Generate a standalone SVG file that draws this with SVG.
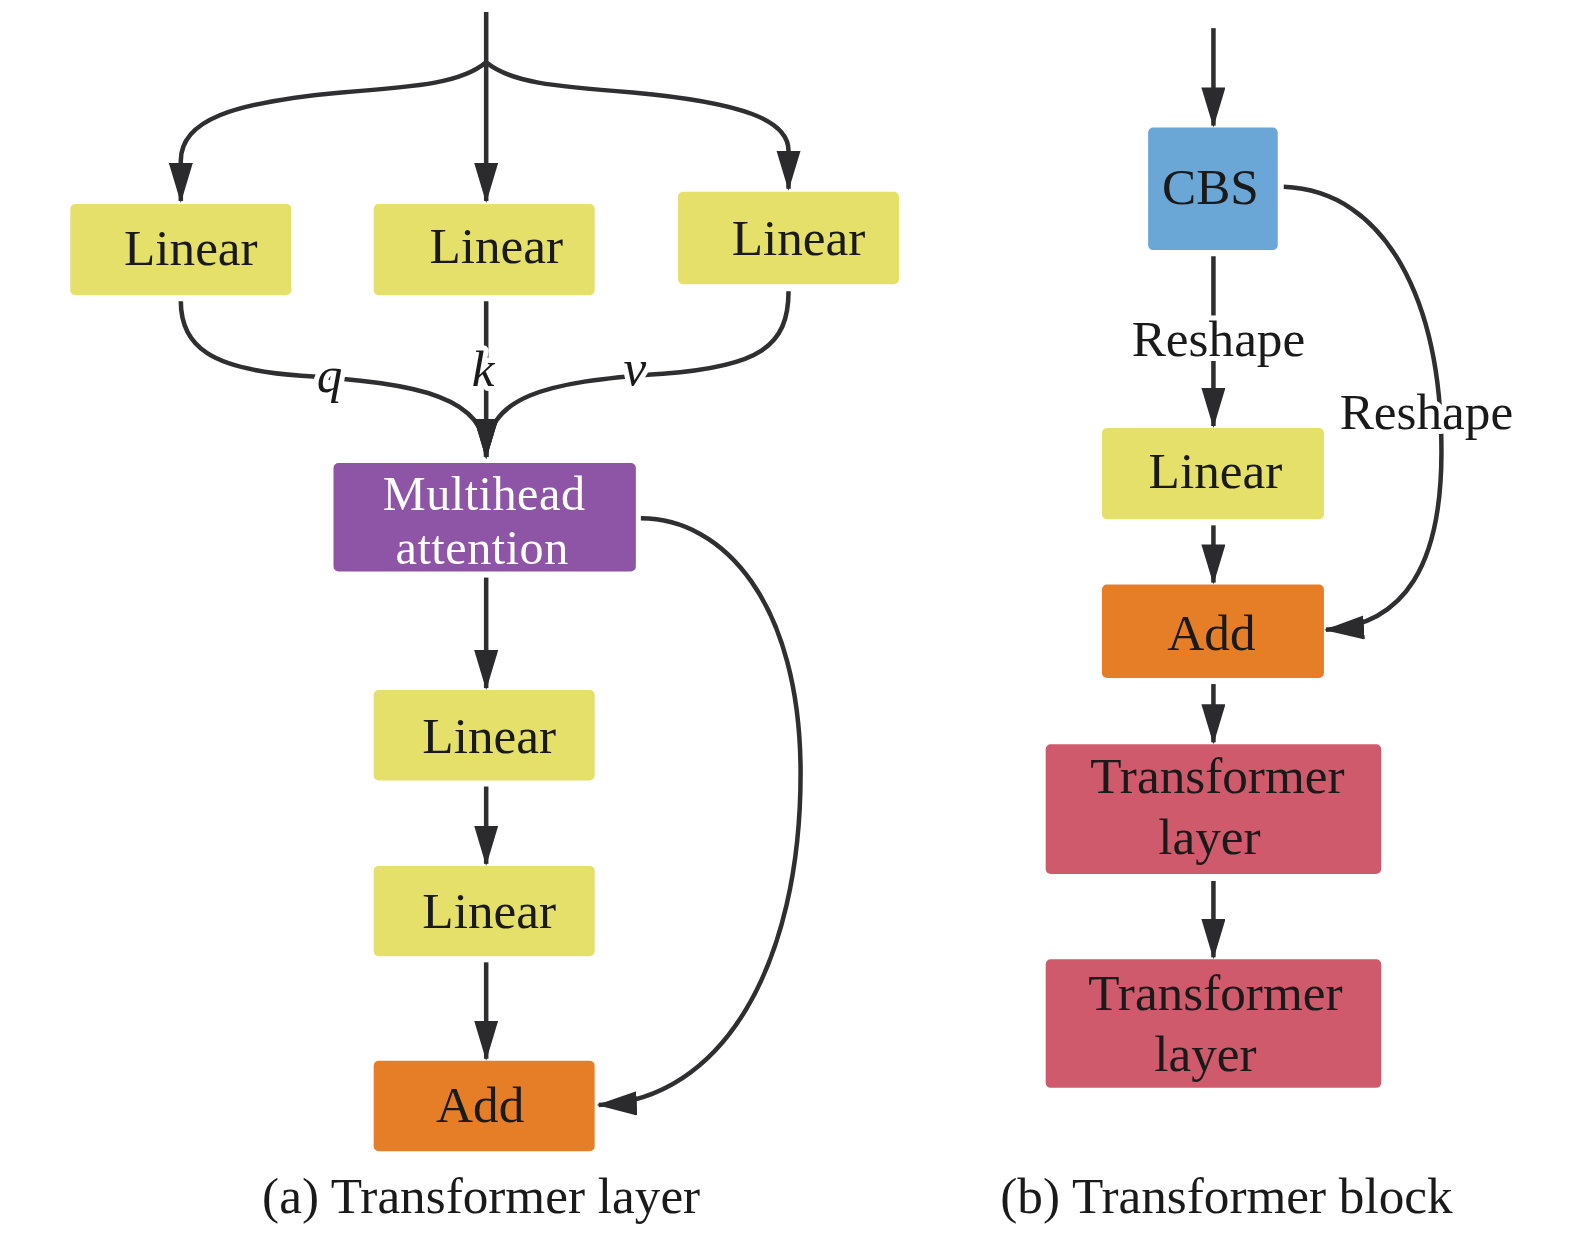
<svg xmlns="http://www.w3.org/2000/svg" width="1575" height="1240" viewBox="0 0 1575 1240">
<defs>
<marker id="ah" viewBox="0 0 40 24" refX="38" refY="12" markerWidth="40" markerHeight="24" markerUnits="userSpaceOnUse" orient="auto">
<path d="M0,0 L40,12 L0,24 z" fill="#2b2b2d"/>
</marker>
</defs>
<style>
.bx{rx:5;ry:5}
.y{fill:#E5E069}
.p{fill:#8E54A6}
.o{fill:#E67E27}
.b{fill:#6AA6D6}
.r{fill:#CE5A6C}
text{font-family:"Liberation Serif","Times New Roman",serif;font-size:51px;fill:#1a1a1a;text-anchor:middle}
.w{fill:#ffffff;font-size:48px;letter-spacing:0.5px}
.lbl{paint-order:stroke;stroke:#ffffff;stroke-width:10px;stroke-linejoin:round}
.it{font-style:italic}
.c{fill:none;stroke:#2f2f31;stroke-width:4.5}
</style>
<g transform="scale(1.0045)">
<g id="connectors">
<path class="c" d="M484,12 L484,200" marker-end="url(#ah)"/>
<path class="c" d="M484,62 C460,82 420,86 340,92 C230,102 180,120 180,160 L180,200" marker-end="url(#ah)"/>
<path class="c" d="M484,62 C508,82 550,86 630,92 C740,102 785,120 785,150 L785,188" marker-end="url(#ah)"/>
<path class="c" d="M180,300 C180,345 210,368 300,374 C420,382 484,395 484,455" marker-end="url(#ah)"/>
<path class="c" d="M484,300 L484,455" marker-end="url(#ah)"/>
<path class="c" d="M785,290 C785,345 755,365 660,372 C540,380 484,395 484,455" marker-end="url(#ah)"/>
<path class="c" d="M484,575 L484,685" marker-end="url(#ah)"/>
<path class="c" d="M484,783 L484,860" marker-end="url(#ah)"/>
<path class="c" d="M484,958 L484,1054" marker-end="url(#ah)"/>
<path class="c" d="M638,516 C720,516 797,600 797,770 C797,960 720,1095 596,1100" marker-end="url(#ah)"/>
<path class="c" d="M1208,28 L1208,125" marker-end="url(#ah)"/>
<path class="c" d="M1208,255 L1208,424" marker-end="url(#ah)"/>
<path class="c" d="M1208,523 L1208,580" marker-end="url(#ah)"/>
<path class="c" d="M1278,186 C1380,190 1435,300 1435,450 C1435,560 1400,622 1320,627" marker-end="url(#ah)"/>
<path class="c" d="M1208,681 L1208,739" marker-end="url(#ah)"/>
<path class="c" d="M1208,877 L1208,953" marker-end="url(#ah)"/>
<text class="lbl it" x="328" y="390">q</text>
<text class="lbl it" x="481" y="384">k</text>
<text class="lbl it" x="632" y="383">v</text>
<text class="lbl" x="1213" y="354">Reshape</text>
<text class="lbl" x="1420" y="427">Reshape</text>
</g>
<g id="linear-q"><rect class="bx y" x="70" y="203" width="220" height="91"/><text x="190" y="264">Linear</text></g>
<g id="linear-k"><rect class="bx y" x="372" y="203" width="220" height="91"/><text x="494" y="262">Linear</text></g>
<g id="linear-v"><rect class="bx y" x="675" y="191" width="220" height="92"/><text x="795" y="254">Linear</text></g>
<g id="mha"><rect class="bx p" x="332" y="461" width="301" height="108"/><text class="w" x="482" y="508">Multihead</text><text class="w" x="480" y="561">attention</text></g>
<g id="linear-a1"><rect class="bx y" x="372" y="687" width="220" height="90"/><text x="487" y="750">Linear</text></g>
<g id="linear-a2"><rect class="bx y" x="372" y="862" width="220" height="90"/><text x="487" y="924">Linear</text></g>
<g id="add-a"><rect class="bx o" x="372" y="1056" width="220" height="90"/><text x="478" y="1117">Add</text></g>
<g id="cbs"><rect class="bx b" x="1143" y="127" width="129" height="122"/><text x="1205" y="203">CBS</text></g>
<g id="linear-b"><rect class="bx y" x="1097" y="426" width="221" height="91"/><text x="1210" y="486">Linear</text></g>
<g id="add-b"><rect class="bx o" x="1097" y="582" width="221" height="93"/><text x="1206" y="647">Add</text></g>
<g id="tl1"><rect class="bx r" x="1041" y="741" width="334" height="129"/><text x="1212" y="789">Transformer</text><text x="1204" y="850">layer</text></g>
<g id="tl2"><rect class="bx r" x="1041" y="955" width="334" height="128"/><text x="1210" y="1005">Transformer</text><text x="1200" y="1066">layer</text></g>
<g id="captions"><text x="479" y="1208">(a) Transformer layer</text><text x="1221" y="1208">(b) Transformer block</text></g>
</g>
</svg>
